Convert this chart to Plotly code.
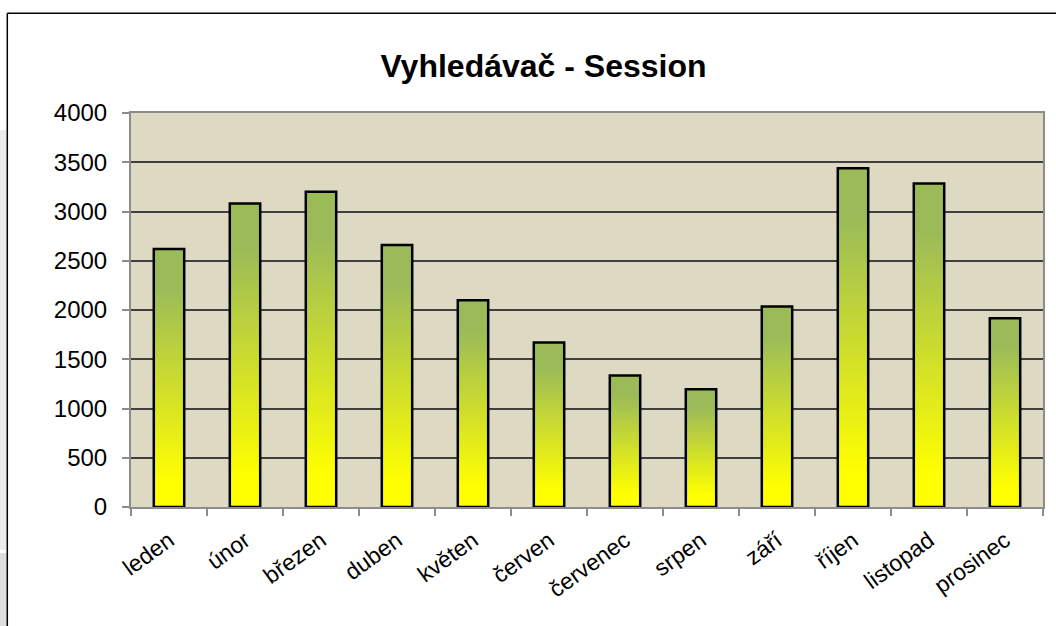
import plotly.graph_objects as go

months = ["leden", "únor", "březen", "duben", "květen", "červen",
          "červenec", "srpen", "září", "říjen", "listopad", "prosinec"]
sessions = [2620, 3080, 3200, 2660, 2100, 1670, 1335, 1195, 2035, 3440, 3285, 1915]
y_ticks = [0, 500, 1000, 1500, 2000, 2500, 3000, 3500, 4000]

FONT = "Liberation Sans, Arial, sans-serif"
HALF = 0.2  # half bar width in category units

fig = go.Figure()
for i, v in enumerate(sessions):
    fig.add_trace(go.Scatter(
        x=[i - HALF, i - HALF, i + HALF, i + HALF, i - HALF],
        y=[0, v, v, 0, 0],
        mode="lines",
        fill="toself",
        fillgradient=dict(
            type="vertical",
            colorscale=[[0, "#FFFF00"], [0.1, "#FFFF00"], [0.85, "#9BBB59"], [1, "#9BBB59"]],
        ),
        line=dict(color="#000000", width=2.5),
        hoverinfo="text",
        text=f"{months[i]}: {v}",
        showlegend=False,
    ))

L, R, T, B = 131, 13, 113, 119
PW, PH = 1056 - L - R, 626 - T - B
def px(x):
    return (x - L) / PW
def py(y):
    return (626 - B - y) / PH

shapes = [
    dict(type="rect", xref="paper", yref="paper", x0=px(0), x1=px(7), y0=py(550), y1=py(130),
         fillcolor="#ebebeb", line=dict(width=0), layer="below"),
    dict(type="rect", xref="paper", yref="paper", x0=px(0), x1=px(7), y0=py(626), y1=py(553),
         fillcolor="#dedede", line=dict(width=0), layer="below"),
    dict(type="line", xref="paper", yref="paper", x0=px(7.3), x1=px(1056), y0=py(13.3), y1=py(13.3),
         line=dict(color="#000000", width=1.5)),
    dict(type="line", xref="paper", yref="paper", x0=px(7.3), x1=px(7.3), y0=py(13.3), y1=py(626),
         line=dict(color="#000000", width=1.5)),
]

fig.update_layout(
    width=1056, height=626,
    margin=dict(l=L, r=R, t=T, b=B),
    paper_bgcolor="#FFFFFF",
    plot_bgcolor="#DDD9C3",
    font=dict(family=FONT, color="#000000"),
    title=dict(text="Vyhledávač - Session", font=dict(size=32, family=FONT, weight="bold"),
               xref="container", x=543.5 / 1056, xanchor="center",
               yref="container", y=1 - 66 / 626, yanchor="middle"),
    shapes=shapes,
    xaxis=dict(
        range=[-0.5, 11.5],
        tickmode="array", tickvals=list(range(len(months))), ticktext=months,
        tickangle=-36, ticks="", showgrid=False, zeroline=False,
        tickfont=dict(size=23, family=FONT),
        showline=True, linecolor="#8c8c8c", linewidth=2, mirror=True,
        ticklabelstandoff=9,
        minor=dict(tickmode="array", tickvals=[k - 0.5 for k in range(len(months) + 1)],
                   ticks="outside", ticklen=7, tickcolor="#8c8c8c", tickwidth=1.5, showgrid=False),
        fixedrange=True,
    ),
    yaxis=dict(
        range=[0, 4000], tickmode="array", tickvals=y_ticks,
        ticks="outside", ticklen=7, tickcolor="#8c8c8c", tickwidth=1.5,
        showgrid=True, gridcolor="#3f3f3f", gridwidth=1.5, zeroline=False,
        tickfont=dict(size=24, family=FONT),
        showline=True, linecolor="#8c8c8c", linewidth=2, mirror=True,
        ticklabelstandoff=10,
        fixedrange=True,
    ),
)

fig.write_html("out.html", config={"displayModeBar": False},
               post_script="document.body.style.margin='0';")
